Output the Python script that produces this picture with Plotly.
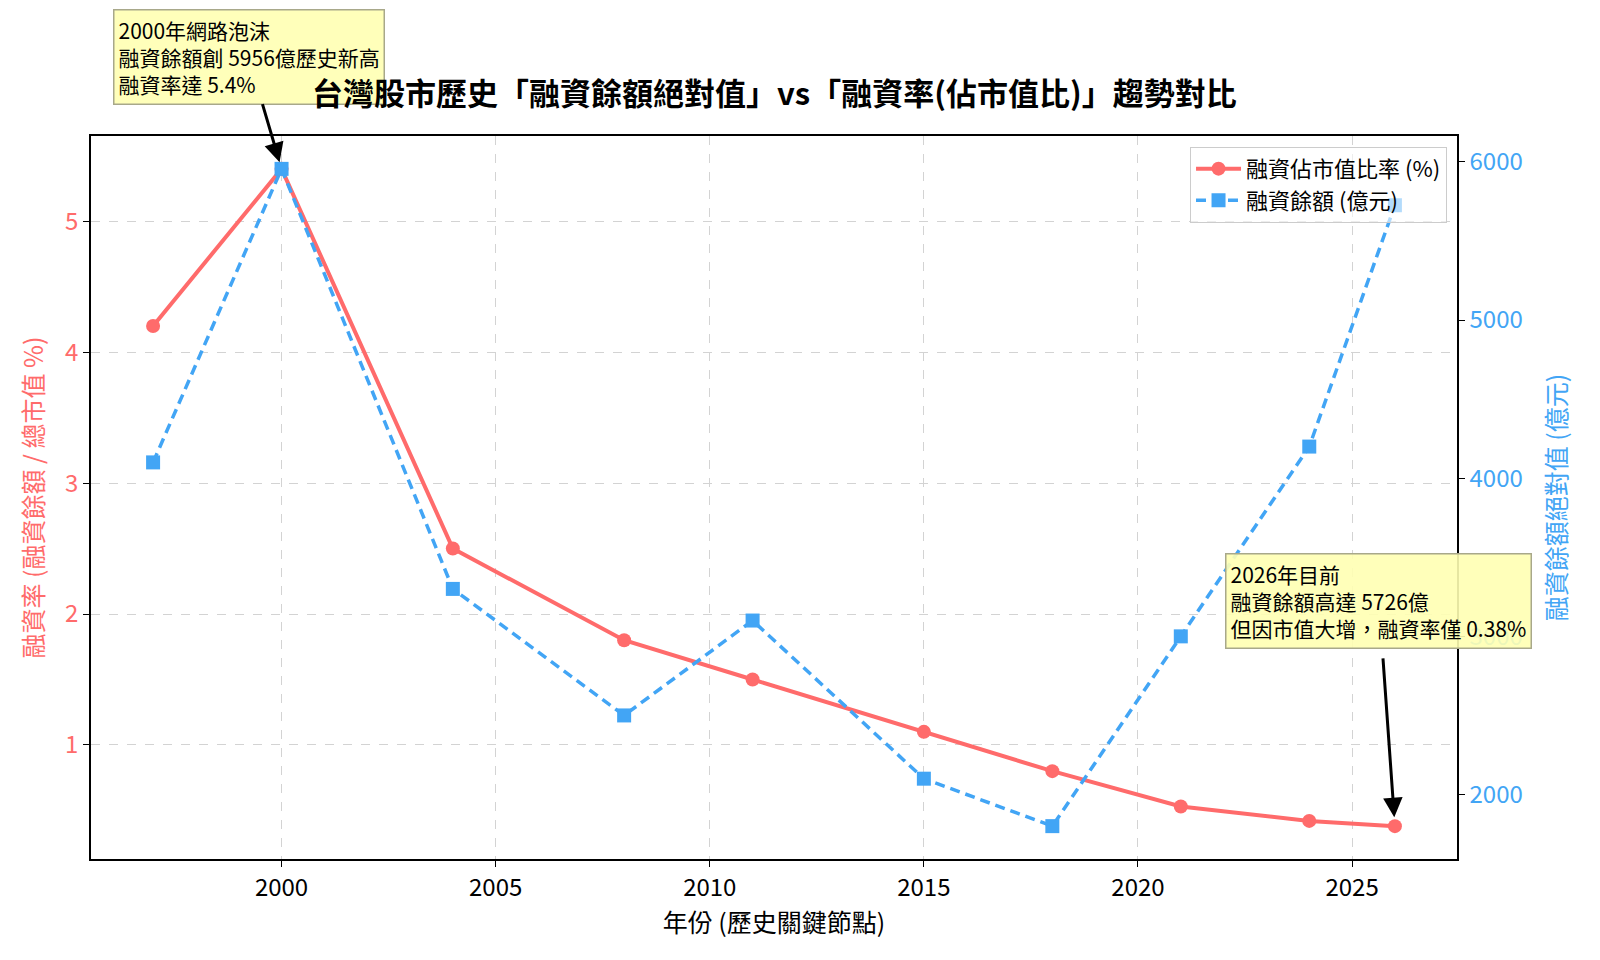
import plotly.graph_objects as go

years = [1997, 2000, 2004, 2008, 2011, 2015, 2018, 2021, 2024, 2026]
margin_rate = [4.2, 5.4, 2.5, 1.8, 1.5, 1.1, 0.8, 0.53, 0.42, 0.38]
margin_amount = [4100, 5956, 3300, 2500, 3100, 2100, 1800, 3000, 4200, 5726]

x_ticks = [2000, 2005, 2010, 2015, 2020, 2025]
y1_ticks = [1, 2, 3, 4, 5]
y2_ticks = [2000, 3000, 4000, 5000, 6000]

RED = "#FF6B6B"
BLUE = "#42A5F5"
FONT = "Noto Sans CJK TC"

fig = go.Figure()
fig.add_trace(go.Scatter(
    x=years, y=margin_rate, name="融資佔市值比率 (%)", mode="lines+markers",
    line=dict(color=RED, width=4), marker=dict(symbol="circle", size=14, color=RED),
    yaxis="y"))
fig.add_trace(go.Scatter(
    x=years, y=margin_amount, name="融資餘額 (億元)", mode="lines+markers",
    line=dict(color=BLUE, width=3.5, dash="10px,6px"),
    marker=dict(symbol="square", size=14, color=BLUE),
    yaxis="y2"))

fig.update_layout(
    width=1600, height=960,
    margin=dict(l=91, r=143, t=136, b=101),
    paper_bgcolor="white", plot_bgcolor="white",
    font=dict(family=FONT, size=20, color="black"),
    xaxis=dict(range=[1995.55, 2027.45], tickvals=x_ticks, ticks="outside", ticklen=6,
               tickcolor="black", showline=True, linecolor="black", linewidth=1.5, mirror=True,
               showgrid=True, gridcolor="#D3D3D3", griddash="dash", gridwidth=1,
               zeroline=False, tickfont=dict(size=24),
               title=dict(text="年份 (歷史關鍵節點)", font=dict(size=25), standoff=2)),
    yaxis=dict(range=[0.129, 5.651], tickvals=y1_ticks, ticks="outside", ticklen=6,
               tickcolor="black", showline=True, linecolor="black", linewidth=1.5,
               showgrid=True, gridcolor="#D3D3D3", griddash="dash", gridwidth=1,
               zeroline=False, tickfont=dict(size=24, color=RED),
               title=dict(text="融資率 (融資餘額 / 總市值 %)", font=dict(size=25, color=RED), standoff=14)),
    yaxis2=dict(range=[1592.2, 6163.8], tickvals=y2_ticks, overlaying="y", side="right",
                ticks="outside", ticklen=6, tickcolor="black", showline=True, linecolor="black",
                linewidth=1.5, showgrid=False, zeroline=False,
                tickfont=dict(size=24, color=BLUE),
                title=dict(text="融資餘額絕對值 (億元)", font=dict(size=25, color=BLUE), standoff=27)),
    legend=dict(x=0.9927, y=0.985, xanchor="right", yanchor="top",
                bgcolor="rgba(255,255,255,0.6)", bordercolor="#CCCCCC", borderwidth=1,
                font=dict(size=22), tracegroupgap=0, itemwidth=45),
    showlegend=True,
)

fig.add_annotation(
    x=years[1], y=margin_rate[1], xref="x", yref="y",
    text="2000年網路泡沫<br>融資餘額創 5956億歷史新高<br>融資率達 5.4%",
    align="left", showarrow=True, ax=-33, ay=-112, axref="pixel", ayref="pixel",
    arrowhead=2, arrowsize=1.3, arrowwidth=3, arrowcolor="black", standoff=7,
    bgcolor="rgba(255,255,178,0.9)", bordercolor="#A8A88A", borderwidth=1.5, borderpad=4,
    font=dict(size=21, color="black"))

fig.add_annotation(
    x=years[-1], y=margin_rate[-1], xref="x", yref="y",
    text="2026年目前<br>融資餘額高達 5726億<br>但因市值大增，融資率僅 0.38%",
    align="left", showarrow=True, ax=-16, ay=-225, axref="pixel", ayref="pixel",
    arrowhead=2, arrowsize=1.3, arrowwidth=3, arrowcolor="black", standoff=9, startstandoff=10,
    bgcolor="rgba(255,255,178,0.9)", bordercolor="#A8A88A", borderwidth=1.5, borderpad=4,
    font=dict(size=21, color="black"))

# Title drawn after the annotation box so it sits on top, like the reference
fig.add_annotation(
    text="<b>台灣股市歷史「融資餘額絕對值」vs「融資率(佔市值比)」趨勢對比</b>",
    xref="paper", yref="paper", x=0.5007, y=1.061, xanchor="center", yanchor="middle",
    showarrow=False, font=dict(size=31, color="black"))

fig.write_html("out.html")
